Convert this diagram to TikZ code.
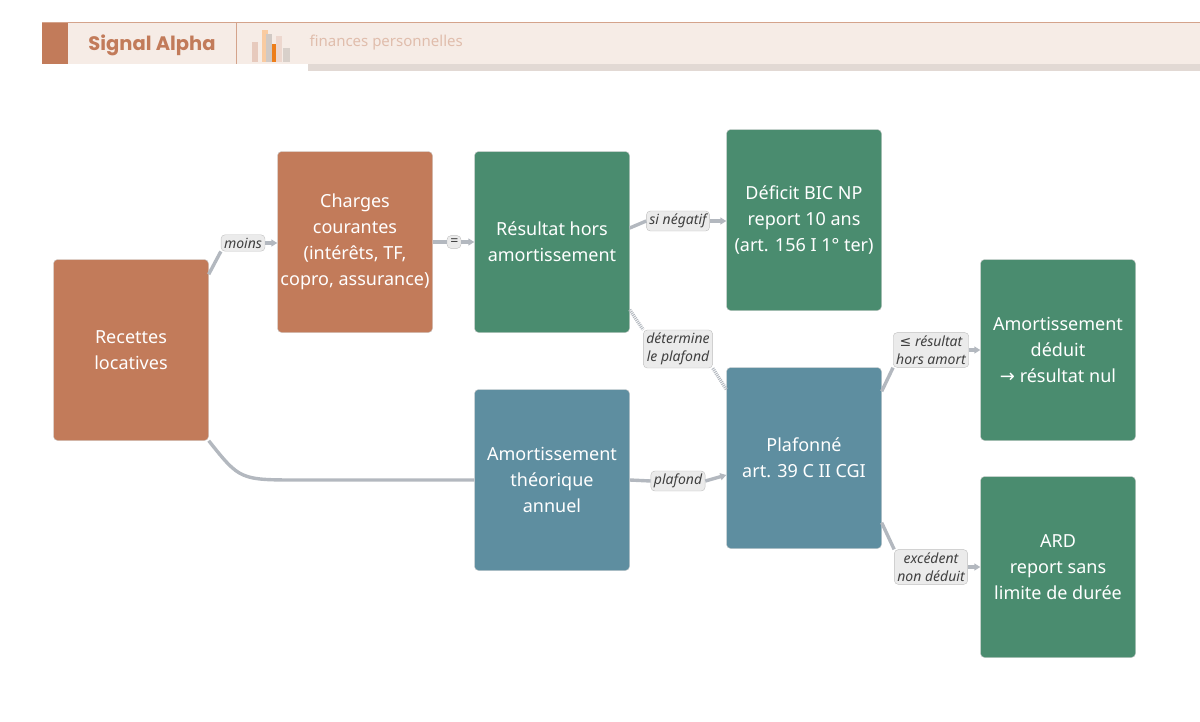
\documentclass[tikz,border=0pt]{standalone}
\usepackage{fontspec}
\setmainfont{Noto Sans}
\newfontfamily\symfont{DejaVu Sans}
\newfontfamily\brandfont{Poppins}
\usetikzlibrary{positioning,arrows.meta}
\definecolor{brick}{HTML}{C27B5A}
\definecolor{pine}{HTML}{4A8C6F}
\definecolor{slate}{HTML}{5E8EA0}
\definecolor{wire}{HTML}{B3B8BF}
\definecolor{cream}{HTML}{F6ECE6}
\tikzset{
  box/.style={draw=white!80!black, rounded corners=4pt, minimum width=155pt, minimum height=181pt,
    text=white, align=center, font=\fontsize{18}{26}\selectfont, inner sep=0pt},
  edge/.style={draw=wire, line width=3.4pt, -{Triangle[length=6pt,width=7pt]}},
  lbl/.style={draw=black!25, fill=black!8, rounded corners=4pt, font=\fontsize{14}{18}\selectfont\itshape,
    text=black!75, align=center, inner sep=3pt}
}
\begin{document}
\begin{tikzpicture}[x=1pt,y=-1pt]
\useasboundingbox (0,0) rectangle (1200,721);
% header
\fill[brick] (42,22) rectangle (68,64);
\fill[cream] (68,22) rectangle (1200,64);
\draw[brick!70] (42,22) -- (1200,22);
\draw[brick!70] (236,22) -- (236,64);
\fill[black!8!cream] (308,64) rectangle (1200,71);
\fill[brick!40] (252,42) rectangle (258,62);
\fill[orange!30!cream] (262,30) rectangle (268,62);
\fill[black!15!cream] (266,34) rectangle (272,62);
\fill[orange!70!brick] (272,44) rectangle (278,62);
\fill[brick!30] (276,36) rectangle (282,62);
\fill[black!12!cream] (283,48) rectangle (290,62);
\node[text=brick, font=\brandfont\bfseries\fontsize{19.5}{22}\selectfont] (brand) at (152,45) {Signal Alpha};
\node[anchor=west, text=brick!50, font=\fontsize{15}{17}\selectfont] (tag) at (306,43) {finances personnelles};
% boxes
\node[box, fill=brick] (rec) at (131,350) {Recettes\\locatives};
\node[box, fill=brick] (cha) at (355,242) {Charges\\courantes\\(intérêts, TF,\\copro, assurance)};
\node[box, fill=pine] (res) at (552,242) {Résultat hors\\amortissement};
\node[box, fill=pine] (def) at (804,220) {Déficit BIC NP\\report 10 ans\\(art. 156 I 1° ter)};
\node[box, fill=slate] (amo) at (552,480) {Amortissement\\théorique\\annuel};
\node[box, fill=slate] (pla) at (804,458) {Plafonné\\art. 39 C II CGI};
\node[box, fill=pine] (ded) at (1058,350) {Amortissement\\déduit\\{\symfont→} résultat nul};
\node[box, fill=pine] (ard) at (1058,567) {ARD\\report sans\\limite de durée};
% connectors
\draw[wire, line width=3.4pt] (rec.south east) .. controls (240,480) .. (300,480) -- (amo.west);
\node[lbl] (moins) at (243,243) {moins};
\draw[wire, line width=3.4pt] ([yshift=-15pt]rec.north east) -- (moins.south west);
\draw[edge] (moins.east) -- (cha.west |- moins);
\node[lbl] (egal) at (454,242) {=};
\draw[wire, line width=3.4pt] (cha.east) -- (egal.west);
\draw[edge] (egal.east) -- (res.west);
\node[lbl] (neg) at (678,221) {si négatif};
\draw[wire, line width=3.4pt] ([yshift=14pt]res.east) -- (neg.west);
\draw[edge] (neg.east) -- (def.west |- neg);
\node[lbl] (det) at (678,349) {détermine\\le plafond};
\draw[wire, line width=3.4pt, dash pattern=on 1pt off 1pt] ([yshift=23pt]res.south east) -- (det.north west);
\draw[wire, line width=3.4pt, dash pattern=on 1pt off 1pt] (det.south east) -- ([yshift=-22pt]pla.north west);
\node[lbl] (plf) at (678,481) {plafond};
\draw[wire, line width=3.4pt] (amo.east) -- (plf.west);
\draw[edge] (plf.east) -- ([yshift=-17pt]pla.west);
\node[lbl] (inf) at (931,350) {{\symfont\upshape≤} résultat\\hors amort};
\draw[wire, line width=3.4pt] ([yshift=-24pt]pla.north east) -- (inf.south west);
\draw[edge] (inf.east) -- (ded.west |- inf);
\node[lbl] (exc) at (931,567) {excédent\\non déduit};
\draw[wire, line width=3.4pt] ([yshift=26pt]pla.south east) -- (exc.north west);
\draw[edge] (exc.east) -- (ard.west |- exc);
\end{tikzpicture}
\end{document}
